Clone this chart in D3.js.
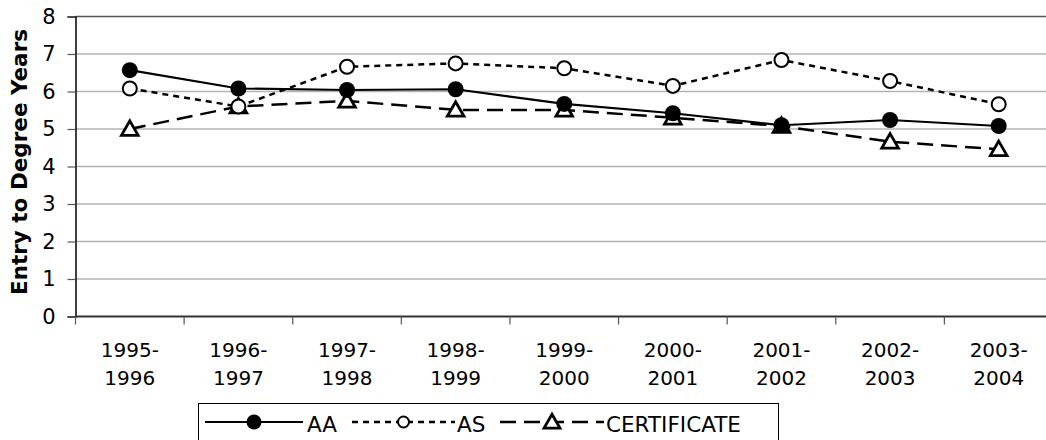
<!DOCTYPE html>
<html><head><meta charset="utf-8">
<script src="https://cdn.jsdelivr.net/npm/d3@7"></script>
<style>body{margin:0;background:#fff;} svg{display:block;font-family:"DejaVu Sans",Verdana,sans-serif;}</style>
</head><body>
<svg id="c" width="1046" height="440"></svg>
<script>
const categories = ["1995-1996","1996-1997","1997-1998","1998-1999","1999-2000","2000-2001","2001-2002","2002-2003","2003-2004"];
const aaValues   = [6.57, 6.08, 6.04, 6.06, 5.67, 5.42, 5.10, 5.24, 5.08];
const asValues   = [6.08, 5.60, 6.66, 6.75, 6.62, 6.15, 6.84, 6.28, 5.66];
const certValues = [5.00, 5.60, 5.75, 5.51, 5.51, 5.30, 5.08, 4.66, 4.46];
const yTicks = [0,1,2,3,4,5,6,7,8];
const seriesNames = ["AA","AS","CERTIFICATE"];
const yTitle = "Entry to Degree Years";

const svg = d3.select("#c");
const L = 75.5, R = 1053, T = 16.5, B = 316.5;
const x = d3.scaleBand().domain(categories).range([L, R]).padding(0);
const y = d3.scaleLinear().domain([0, 8]).range([B, T]);

// gridlines
svg.append("g").selectAll("line").data(yTicks.filter(v => v > 0 && v < 8)).join("line")
  .attr("x1", L).attr("x2", R).attr("y1", d => y(d)).attr("y2", d => y(d))
  .attr("stroke", "#b4b4b4").attr("stroke-width", 1.5);
// top border
svg.append("line").attr("x1", L).attr("x2", R).attr("y1", y(8)).attr("y2", y(8))
  .attr("stroke", "#555").attr("stroke-width", 1.5);

// y axis
const yAxis = d3.axisLeft(y).tickValues(yTicks).tickSize(8).tickPadding(12).tickFormat(d3.format("d"));
const gy = svg.append("g").attr("transform", `translate(${L},0)`).call(yAxis);
gy.select(".domain").attr("stroke", "#000").attr("stroke-width", 1.5);
gy.selectAll(".tick line").attr("stroke", "#555").attr("stroke-width", 1.2);
gy.selectAll(".tick text").attr("font-size", 21).attr("fill", "#000").attr("font-family", "DejaVu Sans");

// x axis
const gx = svg.append("g").attr("transform", `translate(0,${B})`);
gx.append("line").attr("x1", L).attr("x2", R).attr("stroke", "#333").attr("stroke-width", 2);
const bounds = categories.map(c => x(c)).concat([x(categories[categories.length-1]) + x.bandwidth()]);
gx.selectAll("line.t").data(bounds).join("line").attr("class","t")
  .attr("x1", d => d).attr("x2", d => d).attr("y1", 0).attr("y2", 8)
  .attr("stroke", "#555").attr("stroke-width", 1.2);
const labels = gx.selectAll("text").data(categories).join("text")
  .attr("text-anchor", "middle").attr("font-size", 20).attr("fill", "#000")
  .attr("transform", d => `translate(${x(d) + x.bandwidth()/2},0)`);
labels.append("tspan").attr("x", 0).attr("y", 40.5).text(d => d.split("-")[0] + "-");
labels.append("tspan").attr("x", 0).attr("y", 68.5).text(d => d.split("-")[1]);

// y title
svg.append("text").attr("transform", `translate(27,162) rotate(-90)`)
  .attr("text-anchor", "middle").attr("font-size", 21.5).attr("font-weight", "bold").text(yTitle);

const cx = c => x(c) + x.bandwidth()/2;
const line = vals => d3.line().x((d,i) => cx(categories[i])).y(d => y(d))(vals);

const styles = [
  {vals: aaValues, dash: null, sw: 2.2, marker: "dot"},
  {vals: asValues, dash: "6,5", sw: 2.5, marker: "circle"},
  {vals: certValues, dash: "16,8", sw: 2.5, marker: "tri"}
];
const triPath = s => d3.symbol().type(d3.symbolTriangle).size(s)();

function drawMarker(g, type, px, py, big) {
  if (type === "dot") {
    g.append("circle").attr("cx", px).attr("cy", py).attr("r", big ? 8 : 7.5).attr("fill", "#000");
  } else if (type === "circle") {
    g.append("circle").attr("cx", px).attr("cy", py).attr("r", big ? 7 : 5.5)
      .attr("fill", "#fff").attr("stroke", "#000").attr("stroke-width", 2);
  } else {
    g.append("path").attr("d", triPath(big ? 120 : 110))
      .attr("transform", `translate(${px},${py + 1.5})`)
      .attr("fill", "#fff").attr("stroke", "#000").attr("stroke-width", 2.8).attr("stroke-linejoin", "miter");
  }
}

const order = [2, 1, 0];
order.forEach(k => {
  const s = styles[k];
  svg.append("path").attr("d", line(s.vals)).attr("fill", "none").attr("stroke", "#000")
    .attr("stroke-width", s.sw).attr("stroke-dasharray", s.dash);
});
order.forEach(k => {
  const s = styles[k];
  const g = svg.append("g");
  s.vals.forEach((v, i) => drawMarker(g, s.marker, cx(categories[i]), y(v), true));
});

// legend
const lg = svg.append("g");
lg.append("rect").attr("x", 198.5).attr("y", 403.5).attr("width", 580).attr("height", 40)
  .attr("fill", "#fff").attr("stroke", "#000").attr("stroke-width", 1);
const legendItems = [
  {x1: 205, x2: 303, tx: 307},
  {x1: 352, x2: 455, tx: 457},
  {x1: 500, x2: 604, tx: 606}
];
legendItems.forEach((it, k) => {
  const s = styles[k];
  const ly = 422;
  lg.append("line").attr("x1", it.x1).attr("x2", it.x2).attr("y1", ly).attr("y2", ly)
    .attr("stroke", "#000").attr("stroke-width", s.sw).attr("stroke-dasharray", s.dash);
  drawMarker(lg, s.marker, (it.x1 + it.x2)/2, ly, false);
  lg.append("text").attr("x", it.tx).attr("y", 432).attr("font-size", 21.5).text(seriesNames[k]);
});
</script>
</body></html>
